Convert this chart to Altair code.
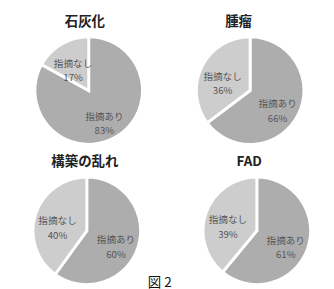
import altair as alt
import pandas as pd

panels = ["石灰化", "腫瘤", "構築の乱れ", "FAD"]
categories = ["指摘あり", "指摘なし"]
ari_values = [83, 66, 60, 61]
nashi_values = [17, 36, 40, 39]
ari_colors = ["#adadad", "#a6a6a6", "#a2a2a2", "#c6c6c6"]
nashi_colors = ["#cdcdcd", "#c2c2c2", "#b4b4b4", "#ababab"]
x_centers = [84, 92, 82, 88]
caption = ["図 2"]

FONT = "Noto Sans CJK JP"
H = 110


def panel(i):
    df = pd.DataFrame({
        "cat": categories,
        "value": [ari_values[i], nashi_values[i]],
        "order": [0, 1],
        "label": [[categories[0], f"{ari_values[i]}%"], [categories[1], f"{nashi_values[i]}%"]],
    })
    base = alt.Chart(df).encode(
        theta=alt.Theta("value:Q", stack=True),
        order=alt.Order("order:Q"),
    )
    arc = base.mark_arc(radius=56, stroke="white", strokeWidth=3).encode(
        x=alt.value(x_centers[i]),
        color=alt.Color("cat:N", scale=alt.Scale(domain=categories,
                                                 range=[ari_colors[i], nashi_colors[i]]),
                        legend=None),
    )
    text = base.mark_text(radius=32, font=FONT, fontSize=10, color="#555555",
                          lineHeight=15).encode(
        x=alt.value(x_centers[i]),
        text=alt.Text("label"),
    )
    layers = [arc, text]
    if i == 2:
        cap = alt.Chart(pd.DataFrame({"t": caption})).mark_text(
            font=FONT, fontSize=14, color="#111111", clip=False
        ).encode(x=alt.value(158), y=alt.value(H - 1), text="t:N")
        layers.append(cap)
    return alt.layer(*layers).properties(
        width=160, height=H,
        title=alt.TitleParams(panels[i], font=FONT, fontSize=14, fontWeight="bold",
                              color="#222222", offset=2),
    )


top = alt.hconcat(panel(0), panel(1), spacing=0)
bottom = alt.hconcat(panel(2), panel(3), spacing=0)
chart = alt.vconcat(top, bottom, spacing=6).properties(
    padding={"top": 2, "left": 0, "right": 0, "bottom": 0}
).configure_view(stroke=None).configure_concat(spacing=0)

chart.save("out.html", embed_options={"renderer": "svg", "actions": False})
